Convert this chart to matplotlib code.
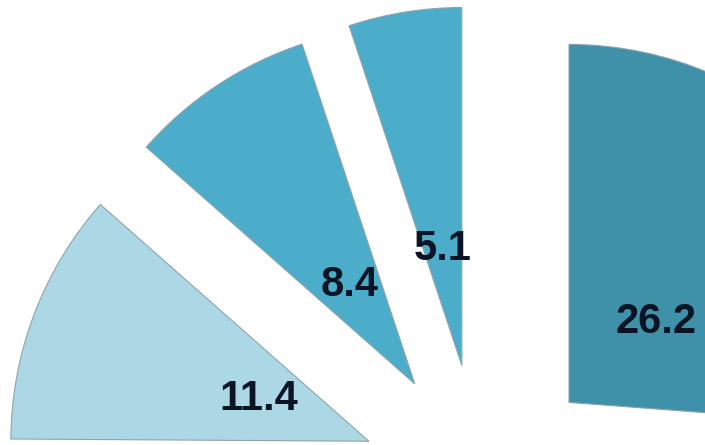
import matplotlib.pyplot as plt

labels = ['26.2', 'rest', '11.4', '8.4', '5.1']
values = [26.2, 48.9, 11.4, 8.4, 5.1]
colors = ['#3e91a9', '#3e91a9', '#acd8e5', '#4badca', '#4badca']

# geometry in pixels (pie is cropped, centre below the image)
W, H = 705, 445
R = 358.0
cx, cy = 481.0, 484.0
offset = 120.0

fig = plt.figure(figsize=(W / 100, H / 100), dpi=100)
ax = fig.add_axes([0, 0, 1, 1])

wedges, texts, autotexts = ax.pie(
    values,
    radius=1,
    center=(cx / R, -cy / R),
    startangle=90,
    counterclock=False,
    explode=[offset / R] * len(values),
    colors=colors,
    autopct='%.1f',
    pctdistance=0.33,
    wedgeprops=dict(edgecolor='#8fa3aa', linewidth=0.8),
    textprops=dict(fontsize=30, fontweight='bold', color='#0b1424',
                   family=['Liberation Sans', 'DejaVu Sans']),
    frame=True,
)

# drop the outer (empty) labels and the label of the hidden remainder
for t in texts:
    t.remove()
for lab, t in zip(labels, autotexts):
    if lab == 'rest':
        t.remove()

ax.set_xlim(0, W / R)
ax.set_ylim(-H / R, 0)
ax.set_aspect('equal')
ax.axis('off')

fig.savefig('out.png', dpi=100)
